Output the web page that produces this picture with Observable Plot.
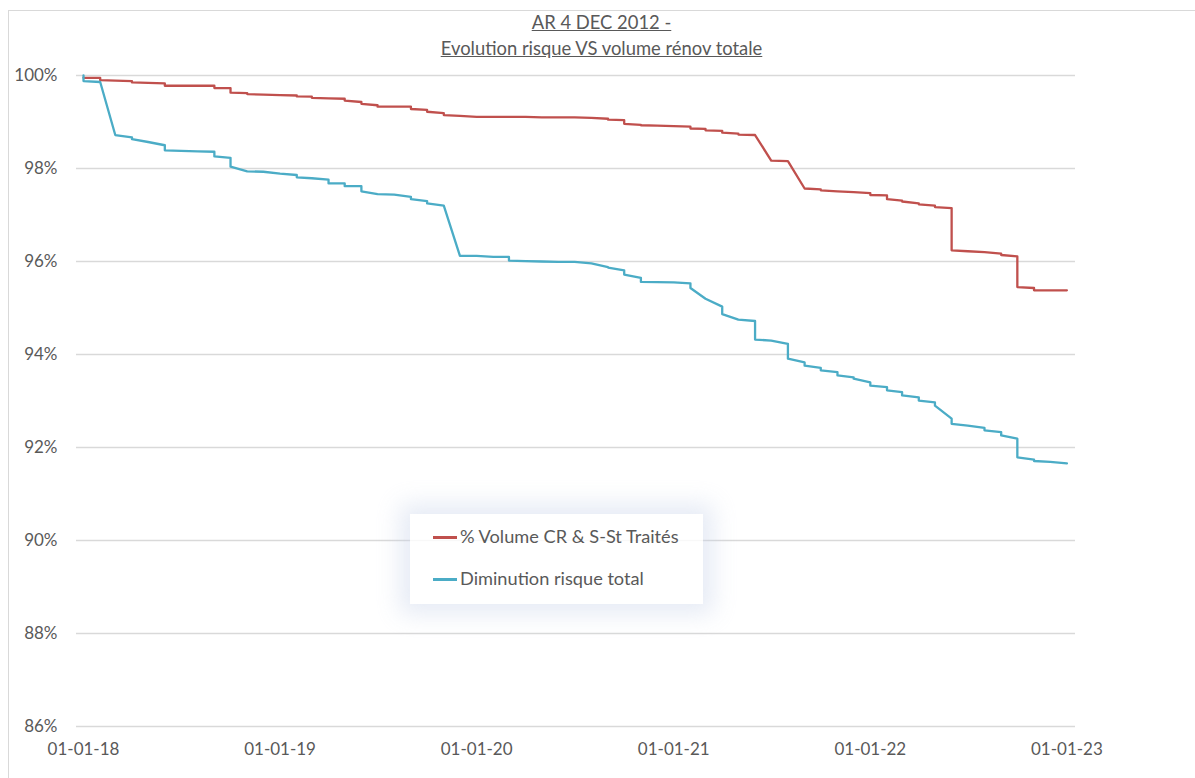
<!DOCTYPE html>
<html>
<head>
<meta charset="utf-8">
<script src="https://cdn.jsdelivr.net/npm/d3@7"></script>
<script src="https://cdn.jsdelivr.net/npm/@observablehq/plot@0.6"></script>
<style>
  html, body { margin: 0; padding: 0; background: #fff; }
  #wrap { position: relative; width: 1195px; height: 778px; overflow: hidden; font-family: Lato, "Open Sans", sans-serif; color: #595959; }
  #frame { position: absolute; left: 8px; top: 10px; width: 1400px; height: 1000px; border: 1px solid #d9d9d9; pointer-events: none; }
  #title { position: absolute; left: 4px; top: 9px; width: 1195px; text-align: center; font-size: 18.4px; line-height: 26px; text-decoration: underline; color: #595959; }
  #chart { position: absolute; left: 0; top: 62px; }
  #legend { position: absolute; left: 410px; top: 514px; width: 293px; height: 90px; background: rgba(255,255,255,0.82); box-shadow: 0 0 22px 10px rgba(200,210,232,0.45); font-size: 18.2px; color: #595959; }
  .item { position: absolute; left: 23px; height: 20px; line-height: 20px; white-space: nowrap; }
  .sw { display: inline-block; width: 24px; height: 2.4px; vertical-align: middle; margin-right: 3px; position: relative; top: -1px; }
</style>
</head>
<body>
<div id="wrap">
  <div id="frame"></div>
  <div id="title"></div>
  <div id="chart"></div>
  <div id="legend"></div>
</div>
<script>
// ---- Data ----
const titleLines = ["AR 4 DEC 2012 -", "Evolution risque VS volume rénov totale"];
const seriesNames = ["% Volume CR & S-St Traités", "Diminution risque total"];
const seriesColors = ["#C0504D", "#4BACC6"];

const months = [
  "2018-01-01","2018-02-01","2018-03-01","2018-04-01","2018-05-01","2018-06-01","2018-07-01","2018-08-01","2018-09-01","2018-10-01","2018-11-01","2018-12-01",
  "2019-01-01","2019-02-01","2019-03-01","2019-04-01","2019-05-01","2019-06-01","2019-07-01","2019-08-01","2019-09-01","2019-10-01","2019-11-01","2019-12-01",
  "2020-01-01","2020-02-01","2020-03-01","2020-04-01","2020-05-01","2020-06-01","2020-07-01","2020-08-01","2020-09-01","2020-10-01","2020-11-01","2020-12-01",
  "2021-01-01","2021-02-01","2021-03-01","2021-04-01","2021-05-01","2021-06-01","2021-07-01","2021-08-01","2021-09-01","2021-10-01","2021-11-01","2021-12-01",
  "2022-01-01","2022-02-01","2022-03-01","2022-04-01","2022-05-01","2022-06-01","2022-07-01","2022-08-01","2022-09-01","2022-10-01","2022-11-01","2022-12-01",
  "2023-01-01"
];

// % Volume CR & S-St Traités : first and last value recorded in each month
const volumeFirst = [
  99.95, 99.95, 99.89, 99.88, 99.84, 99.83, 99.78, 99.78, 99.78, 99.73, 99.62, 99.59,
  99.58, 99.57, 99.545, 99.51, 99.50, 99.43, 99.36, 99.33, 99.33, 99.26, 99.19, 99.13,
  99.11, 99.11, 99.11, 99.11, 99.10, 99.10, 99.10, 99.09, 99.07, 99.04, 98.94, 98.92,
  98.91, 98.90, 98.85, 98.81, 98.75, 98.72, 98.17, 98.16, 97.57, 97.55, 97.51, 97.49,
  97.47, 97.42, 97.31, 97.25, 97.20, 97.15, 96.22, 96.20, 96.17, 96.11, 95.43, 95.38,
  95.38
];
const volumeLast = [
  99.95, 99.90, 99.89, 99.85, 99.84, 99.78, 99.78, 99.78, 99.73, 99.63, 99.60, 99.59,
  99.58, 99.55, 99.52, 99.51, 99.46, 99.39, 99.33, 99.33, 99.28, 99.22, 99.15, 99.13,
  99.11, 99.11, 99.11, 99.11, 99.10, 99.10, 99.10, 99.09, 99.05, 98.96, 98.93, 98.92,
  98.91, 98.86, 98.82, 98.77, 98.73, 98.72, 98.17, 98.16, 97.57, 97.53, 97.51, 97.49,
  97.43, 97.34, 97.29, 97.23, 97.17, 96.24, 96.22, 96.20, 96.14, 95.45, 95.38, 95.38,
  95.38
];

// Diminution risque total : first and last value recorded in each month
const risqueFirst = [
  100.0, 99.86, 98.72, 98.67, 98.57, 98.50, 98.38, 98.37, 98.36, 98.23, 97.94, 97.93,
  97.89, 97.86, 97.79, 97.76, 97.68, 97.62, 97.45, 97.44, 97.39, 97.30, 97.20, 96.12,
  96.12, 96.10, 96.10, 96.01, 96.00, 95.99, 95.99, 95.96, 95.88, 95.81, 95.65, 95.555,
  95.55, 95.53, 95.20, 95.03, 94.75, 94.72, 94.30, 94.23, 93.83, 93.71, 93.62, 93.51,
  93.40, 93.30, 93.19, 93.08, 92.97, 92.62, 92.47, 92.42, 92.33, 92.19, 91.74, 91.69,
  91.66
];
const risqueLast = [
  99.88, 99.86, 98.72, 98.63, 98.57, 98.39, 98.38, 98.37, 98.26, 98.04, 97.94, 97.93,
  97.89, 97.81, 97.79, 97.68, 97.62, 97.51, 97.45, 97.44, 97.34, 97.25, 97.20, 96.12,
  96.12, 96.10, 96.02, 96.01, 96.00, 95.99, 95.99, 95.96, 95.87, 95.72, 95.56, 95.555,
  95.55, 95.43, 95.20, 94.87, 94.75, 94.32, 94.30, 93.91, 93.76, 93.66, 93.55, 93.48,
  93.33, 93.23, 93.12, 93.01, 92.90, 92.51, 92.47, 92.37, 92.26, 91.79, 91.71, 91.69,
  91.66
];

const yTicks = [86, 88, 90, 92, 94, 96, 98, 100];
const xTicks = ["2018-01-01", "2019-01-01", "2020-01-01", "2021-01-01", "2022-01-01", "2023-01-01"];

// ---- Build tables ----
function points(first, last) {
  const out = [];
  months.forEach((m, i) => {
    const d = new Date(m + "T00:00:00Z");
    out.push({date: d, v: first[i]});
    out.push({date: d, v: last[i]});
  });
  return out;
}
const volumePts = points(volumeFirst, volumeLast);
const risquePts = points(risqueFirst, risqueLast);

// ---- Title ----
document.getElementById("title").innerHTML = titleLines.map(t => `<div>${t}</div>`).join("");

// ---- Chart ----
const chart = Plot.plot({
  width: 1195,
  height: 716,
  marginTop: 13,
  marginBottom: 52,
  marginLeft: 76,
  marginRight: 120,
  style: {fontFamily: "Lato, 'Open Sans', sans-serif", fontSize: "17px", color: "#595959", background: "transparent", overflow: "visible"},
  x: {type: "utc", domain: [new Date("2017-12-19T00:00:00Z"), new Date("2023-01-17T00:00:00Z")]},
  y: {domain: [86, 100]},
  marks: [
    Plot.gridY(yTicks, {stroke: "#d9d9d9", strokeOpacity: 1, strokeWidth: 1.3}),
    Plot.axisY(yTicks, {tickSize: 0, tickPadding: 19, tickFormat: d => d + "%", label: null, fontSize: 17}),
    Plot.axisX(xTicks.map(s => new Date(s + "T00:00:00Z")), {tickSize: 0, tickPadding: 16, tickFormat: d3.utcFormat("%d-%m-%y"), label: null, fontSize: 17}),
    Plot.line(volumePts, {x: "date", y: "v", stroke: seriesColors[0], strokeWidth: 2.3, curve: "linear"}),
    Plot.line(risquePts, {x: "date", y: "v", stroke: seriesColors[1], strokeWidth: 2.3, curve: "linear"})
  ]
});
document.getElementById("chart").appendChild(chart);

// ---- Legend ----
const legend = document.getElementById("legend");
const legendTops = [12, 54];
seriesNames.forEach((n, i) => {
  const el = document.createElement("div");
  el.className = "item";
  el.style.top = legendTops[i] + "px";
  el.innerHTML = `<span class="sw" style="background:${seriesColors[i]}"></span>${n}`;
  legend.appendChild(el);
});
</script>
</body>
</html>
